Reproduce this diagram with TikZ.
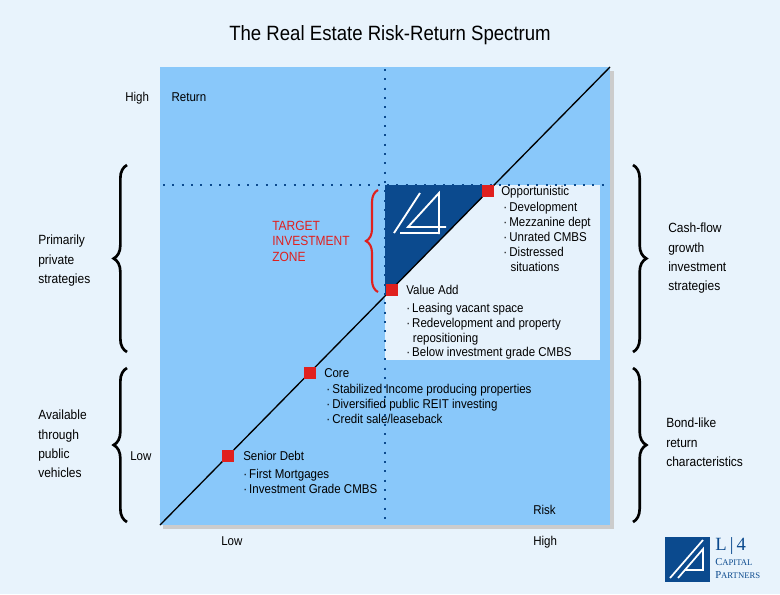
\documentclass[tikz,border=0pt]{standalone}
\usepackage{fontspec}
\setmainfont[FakeStretch=0.9]{Liberation Sans}
\newfontfamily\serifl{Liberation Serif}
\usetikzlibrary{decorations.pathreplacing}
\definecolor{bg}{HTML}{E8F3FC}
\definecolor{sq}{HTML}{89C8FA}
\definecolor{dk}{HTML}{0B4A8E}
\definecolor{rd}{HTML}{E0201E}
\definecolor{bx}{HTML}{E6F2FC}
\begin{document}
\begin{tikzpicture}[x=0.75pt,y=-0.75pt,
  txt/.style={font=\fontsize{9.6}{11.2}\selectfont,anchor=north west,inner sep=0pt,align=left},
  redmark/.style={fill=rd,minimum size=9.5pt,inner sep=0pt},
  dotline/.style={dk,line width=1.6pt,dash pattern=on 1.6pt off 5.4pt},
  brace/.style={decorate,decoration={brace,amplitude=10pt},line width=2pt}]
\useasboundingbox[fill=bg] (0,0) rectangle (780,594);
\node (title) at (390,35) {\fontsize{15.5}{17}\selectfont The Real Estate Risk-Return Spectrum};
\fill[gray!40] (163,71) rectangle (614,529);
\fill[sq] (160,67) rectangle (610,525);
\fill[bx] (385,185) rectangle (600,360);
\fill[dk] (385,185) -- (494,185) -- (385,296) -- cycle;
% logo in triangle
\draw[white,line width=1.4pt,line join=miter] (394,233) -- (420,193);
\draw[white,line width=1.4pt,line join=miter] (439,234) -- (439,193) -- (408,227) -- (446,227);
\draw[white,line width=1.4pt] (400,233) -- (439,233);
\coordinate (d0) at (160,525); \coordinate (d1) at (610,67);
\draw[line width=1pt] (d0) -- (d1);
\draw[dotline] (385,69) -- (385,525);
\draw[dotline] (163,185) -- (610,185);
\node[redmark] (mo) at (488,191) {};
\node[redmark] (mv) at (392,290) {};
\node[redmark] (mc) at (310,373) {};
\node[redmark] (ms) at (228,456) {};
\node[txt] (to) at (501,186) {Opportunistic\\[1pt]
\,·\,Development\\ \,·\,Mezzanine dept\\ \,·\,Unrated CMBS\\ \,·\,Distressed\\ \hspace{7pt}situations};
\node[txt] (tv) at (406,285) {Value Add\\[2pt]
·\,Leasing vacant space\\ ·\,Redevelopment and property\\ \hspace{5pt}repositioning\\ ·\,Below investment grade CMBS};
\node[txt] (tc) at (324,368) {Core\\[1pt]
\,·\,Stabilized Income producing properties\\ \,·\,Diversified public REIT investing\\ \,·\,Credit sale/leaseback};
\node[txt] (ts) at (243,451) {Senior Debt\\[2pt]
·\,First Mortgages\\ ·\,Investment Grade CMBS};
\node[txt,text=rd,font=\fontsize{10}{11.5}\selectfont] (tz) at (272,221) {TARGET\\INVESTMENT\\ZONE};
\draw[brace,rd,line width=1.6pt,decoration={amplitude=9pt}] (378,292) -- (378,190);
\node[txt] (hr) at (125,92) {High\hspace{17pt}Return};
\node[txt] (lo) at (130,451) {Low};
\node[txt] (rk) at (533,505) {Risk};
\node[txt] (xl) at (221,536) {Low};
\node[txt] (xh) at (533,536) {High};
\draw[brace] (127,352) -- (127,165);
\draw[brace] (127,522) -- (127,368);
\draw[brace] (633,165) -- (633,352);
\draw[brace] (633,368) -- (633,522);
\node[txt,font=\fontsize{10}{14.5}\selectfont] (pp) at (38,235) {Primarily\\private\\strategies};
\node[txt,font=\fontsize{10}{14.5}\selectfont] (av) at (38,410) {Available\\through\\public\\vehicles};
\node[txt,font=\fontsize{10}{14.5}\selectfont] (cf) at (668,223) {Cash-flow\\growth\\investment\\strategies};
\node[txt,font=\fontsize{10}{14.5}\selectfont] (bl) at (666,418) {Bond-like\\return\\characteristics};
% corner logo
\fill[dk] (665,537) rectangle (710,582);
\draw[white,line width=1.3pt] (670,578) -- (703,540);
\draw[white,line width=1.3pt] (678,578) -- (703,549) -- (703,570) -- (685,570);
\node[txt,text=dk,font=\fontsize{14}{14}\selectfont\serifl] (l4) at (715,537) {L\,|\,4};
\node[txt,text=dk,font=\fontsize{8}{10}\selectfont\serifl] (cp) at (715,558) {C{\fontsize{6.5}{10}\selectfont APITAL}\\P{\fontsize{6.5}{10}\selectfont ARTNERS}};
\end{tikzpicture}
\end{document}
